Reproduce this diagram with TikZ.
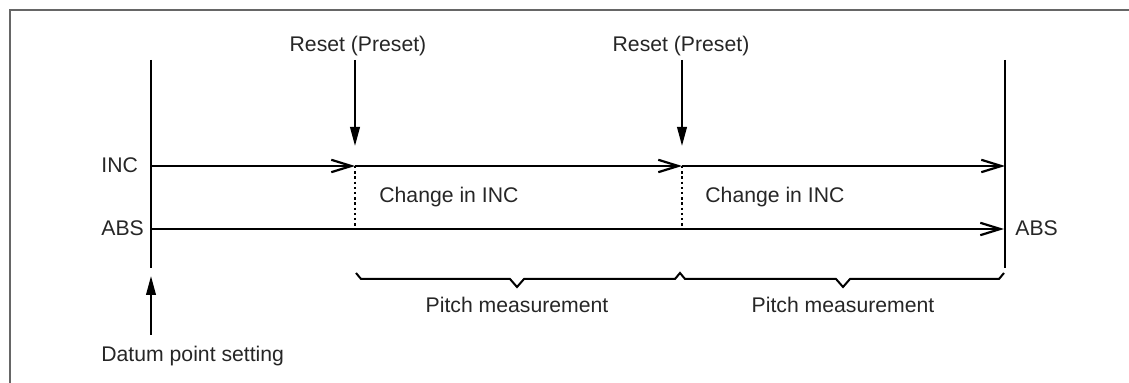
\documentclass[tikz,border=0pt]{standalone}
\usepackage{fontspec}
\setmainfont{Liberation Sans}
\usetikzlibrary{arrows.meta}
\begin{document}
\begin{tikzpicture}[x=0.5pt,y=-0.5pt,
  lbl/.style={font=\fontsize{10.6}{12}\selectfont,inner sep=0pt,text=black!85},
  mainline/.style={line width=1pt},
  openarrow/.style={mainline,-{Straight Barb[length=10pt,width=6.2pt,line width=1.1pt]}},
  filledarrow/.style={mainline,-{Triangle[length=9.5pt,width=4.8pt]}},
  dotline/.style={line width=0.9pt,dash pattern=on 1.2pt off 1.4pt},
  framel/.style={line width=1pt,black!60}]
\useasboundingbox (0,0) rectangle (1129,383);
% frame
\draw[framel] (1129,10) -- (10,10) -- (10,383);
% coordinates
\coordinate (Ltop) at (151,60);
\coordinate (Lbot) at (151,268);
\coordinate (Rtop) at (1005,60);
\coordinate (Rbot) at (1005,268);
\coordinate (inc0) at (151,166);
\coordinate (inc1) at (355,166);
\coordinate (inc2) at (682,166);
\coordinate (inc3) at (1005,166);
\coordinate (abs0) at (151,229);
\coordinate (abs1) at (355,229);
\coordinate (abs2) at (682,229);
\coordinate (abs3) at (1004,229);
\coordinate (r1top) at (355,60);
\coordinate (r2top) at (682,60);
\coordinate (r1tip) at (355,146);
\coordinate (r2tip) at (682,146);
\coordinate (dbot) at (151,335);
\coordinate (dtip) at (151,276);
% verticals
\draw[mainline] (Ltop) -- (Lbot);
\draw[mainline] (Rtop) -- (Rbot);
% INC line
\draw[openarrow] (inc0) -- (inc1);
\draw[openarrow] (inc1) -- (inc2);
\draw[openarrow] (inc2) -- (inc3);
% ABS line
\draw[openarrow] (abs0) -- (abs3);
% dotted
\draw[dotline] (inc1) -- (abs1);
\draw[dotline] (inc2) -- (abs2);
% reset arrows
\draw[filledarrow] (r1top) -- (r1tip);
\draw[filledarrow] (r2top) -- (r2tip);
% datum arrow
\draw[filledarrow] (dbot) -- (dtip);
% braces
\draw[mainline,line join=miter] (356,273) -- (361,279) -- (510,279) -- (517,287) -- (524,279)
  -- (675,279) -- (680,273) -- (685,279) -- (836,279) -- (843,287) -- (850,279)
  -- (999,279) -- (1004,273);
% labels
\node[lbl,anchor=base] (reset1) at (358,52) {Reset (Preset)};
\node[lbl,anchor=base] (reset2) at (681,52) {Reset (Preset)};
\node[lbl,anchor=base west] (incl) at (101,173) {INC};
\node[lbl,anchor=base west] (absl) at (101,236) {ABS};
\node[lbl,anchor=base west] (absr) at (1015,236) {ABS};
\node[lbl,anchor=base west] (ch1) at (379,203) {Change in INC};
\node[lbl,anchor=base west] (ch2) at (705,203) {Change in INC};
\node[lbl,anchor=base] (pm1) at (517,313) {Pitch measurement};
\node[lbl,anchor=base] (pm2) at (843,313) {Pitch measurement};
\node[lbl,anchor=base west] (datum) at (101,362) {Datum point setting};
\end{tikzpicture}
\end{document}
